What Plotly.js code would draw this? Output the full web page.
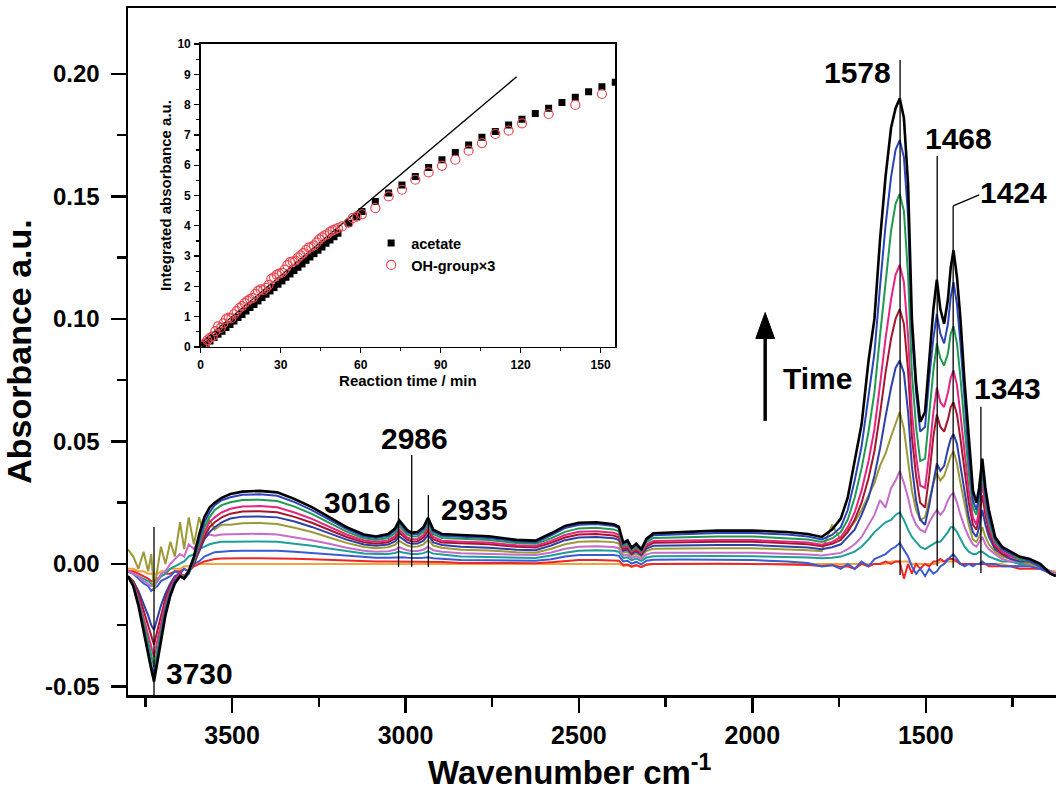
<!DOCTYPE html>
<html>
<head>
<meta charset="utf-8">
<script src="https://cdn.plot.ly/plotly-3.0.1.min.js"></script>
<style>html,body{margin:0;padding:0;background:#fff;}#chart{width:1056px;height:790px;}</style>
</head>
<body>
<div id="chart"></div>
<script>
// ---------------- Main spectra data (wavenumber grid, absorbance per time step) ----------------
const wavenumber = [
3800,3785,3770,3755,3742,3733,3725,3715,3705,3692,3678,3665,3650,3638,3625,3610,3595,3580,3565,3550,3530,3505,
3470,3420,3370,3320,3270,3220,3170,3120,3085,3050,3030,3018,3008,2995,2982,2965,2948,2935,2920,2895,
2840,2760,2680,2625,2580,2540,2500,2450,2400,2385,2372,2360,2348,2335,2320,2305,2285,2200,2100,2000,1900,1840,1800,1770,1745,
1725,1705,1685,1665,1648,1632,1616,1600,1587,1575,1563,1551,1540,1528,1516,1502,1490,1478,1468,1458,1447,1436,1428,1420,1410,1400,1388,1376,1364,1354,1346,1337,1328,1318,1300,1280,1255,1230,1200,1170,1140,1125];

const spec01 = [
-0.002,-0.002,-0.003,-0.003,-0.004,-0.004,-0.004,-0.004,-0.003,-0.003,-0.002,-0.002,-0.002,-0.001,-0.001,-0.001,0.000,0.000,0.000,0.000,0.000,0.000,
0.0001,0.0001,0.0001,0.0001,0.0000,0.0000,0.0000,0.0000,0.0000,0.0000,0.0000,0.0000,0.0000,0.0000,0.0000,0.0000,0.0000,0.0000,0.0000,0.0000,
0.0000,0.0000,0.0000,0.0000,0.0000,0.0001,0.0002,0.0002,0.0001,0.0000,-0.0008,-0.0006,-0.0012,-0.0007,-0.0012,-0.0003,0.0000,0.0000,0.0000,0.0000,0.0000,0.0000,-0.0002,0.0000,-0.0003,
0.000,0.000,0.000,0.000,0.000,0.000,0.000,0.001,0.001,0.001,0.001,0.001,0.000,0.000,0.000,0.000,0.000,0.000,0.000,0.001,0.001,0.001,0.001,0.001,0.001,0.000,0.000,0.000,0.000,0.000,0.000,0.000,0.000,0.000,0.000,0.000,-0.001,-0.001,-0.001,-0.002,-0.003,-0.003];

const spec02 = [
-0.003,-0.003,-0.004,-0.005,-0.006,-0.007,-0.007,-0.006,-0.005,-0.004,-0.004,-0.003,-0.003,-0.002,-0.003,-0.001,0.000,0.001,0.0015,0.002,0.0022,0.0023,
0.0023,0.0023,0.0023,0.0021,0.0019,0.0016,0.0013,0.0011,0.0010,0.0010,0.0010,0.0011,0.0010,0.0010,0.0009,0.0009,0.0009,0.0010,0.0009,0.0008,
0.0004,0.0004,0.0003,0.0003,0.0007,0.0013,0.0016,0.0016,0.0015,0.0013,-0.0004,-0.0002,-0.0011,-0.0005,-0.0013,-0.0002,0.0000,0.0001,0.0001,0.0000,-0.0002,-0.0004,-0.0008,-0.0004,-0.0012,
-0.001,-0.002,0.000,-0.001,0.000,0.000,0.001,0.000,0.001,0.001,-0.006,0.000,-0.004,0.000,-0.002,0.000,-0.001,0.001,0.001,0.002,0.001,0.002,0.002,0.002,0.001,0.000,0.000,0.000,0.000,0.000,0.000,0.000,0.000,-0.001,-0.001,-0.001,-0.001,-0.002,-0.002,-0.002,-0.003,-0.004];

const spec03 = [
-0.003,-0.004,-0.006,-0.008,-0.009,-0.011,-0.010,-0.009,-0.007,-0.006,-0.005,-0.003,-0.004,-0.002,-0.003,0.000,0.001,0.003,0.004,0.0048,0.005,0.0053,
0.0054,0.0055,0.0054,0.0050,0.0045,0.0039,0.0032,0.0027,0.0025,0.0025,0.0027,0.0029,0.0027,0.0025,0.0024,0.0024,0.0025,0.0027,0.0023,0.0021,
0.0016,0.0015,0.0013,0.0013,0.0019,0.0030,0.0036,0.0037,0.0036,0.0033,0.0010,0.0013,0.0001,0.0008,-0.0002,0.0013,0.0017,0.0018,0.0018,0.0016,0.0010,0.0004,-0.0010,-0.0005,-0.0020,
0.000,-0.002,0.001,-0.001,0.002,0.003,0.004,0.006,0.007,0.0085,0.006,0.003,-0.001,-0.004,-0.002,-0.005,-0.002,-0.004,-0.003,-0.001,0.000,0.002,0.003,0.004,0.002,0.000,-0.001,0.000,-0.001,0.000,0.000,0.001,0.000,0.000,0.000,-0.001,-0.001,-0.001,-0.001,-0.002,-0.004,-0.004];

const spec04 = [
-0.003,-0.004,-0.005,-0.006,-0.007,-0.008,-0.009,-0.007,-0.005,-0.004,-0.002,-0.001,0.000,0.001,0.003,0.004,0.006,0.007,0.008,0.0085,0.009,0.009,
0.0091,0.0092,0.0090,0.0083,0.0074,0.0063,0.0052,0.0043,0.0040,0.0041,0.0045,0.0051,0.0047,0.0043,0.0041,0.0041,0.0044,0.0051,0.0042,0.0038,
0.0030,0.0028,0.0025,0.0024,0.0034,0.0046,0.0054,0.0056,0.0054,0.0050,0.0024,0.0027,0.0015,0.0022,0.0012,0.0026,0.0031,0.0032,0.0032,0.0031,0.0029,0.0026,0.0023,0.0025,0.0030,
0.004,0.005,0.007,0.010,0.013,0.015,0.017,0.018,0.020,0.021,0.018,0.014,0.011,0.009,0.007,0.006,0.007,0.008,0.009,0.009,0.011,0.013,0.015,0.015,0.013,0.010,0.007,0.005,0.004,0.004,0.005,0.005,0.004,0.003,0.002,0.001,0.001,0.000,0.000,-0.001,-0.003,-0.004];

const spec05 = [
-0.003,-0.004,-0.005,-0.007,-0.008,-0.009,-0.009,-0.007,-0.004,-0.003,0.000,0.002,0.004,0.003,0.008,0.006,0.010,0.011,0.012,0.0115,0.012,0.0121,
0.0122,0.0123,0.0120,0.0110,0.0097,0.0082,0.0066,0.0054,0.0050,0.0052,0.0058,0.0068,0.0062,0.0056,0.0053,0.0053,0.0058,0.0070,0.0056,0.0050,
0.0044,0.0042,0.0037,0.0036,0.0047,0.0062,0.0070,0.0072,0.0069,0.0064,0.0034,0.0038,0.0024,0.0032,0.0021,0.0039,0.0046,0.0047,0.0046,0.0046,0.0042,0.0038,0.0034,0.0040,0.0045,
0.006,0.008,0.011,0.016,0.020,0.026,0.023,0.031,0.034,0.038,0.033,0.027,0.020,0.016,0.014,0.013,0.017,0.020,0.022,0.020,0.022,0.026,0.028,0.029,0.025,0.020,0.015,0.011,0.008,0.007,0.009,0.011,0.008,0.006,0.004,0.002,0.001,0.001,0.000,-0.001,-0.003,-0.004];

const spec06 = [
0.006,0.003,-0.002,0.005,-0.003,0.004,-0.011,-0.002,0.007,0.000,0.009,0.003,0.017,0.006,0.019,0.008,0.019,0.012,0.018,0.014,0.016,0.0160,
0.0166,0.0167,0.0163,0.0148,0.0130,0.0108,0.0086,0.0069,0.0064,0.0068,0.0078,0.0094,0.0085,0.0075,0.0070,0.0071,0.0080,0.0098,0.0075,0.0066,
0.0058,0.0055,0.0048,0.0046,0.0062,0.0080,0.0090,0.0093,0.0089,0.0083,0.0046,0.0050,0.0034,0.0043,0.0030,0.0053,0.0062,0.0064,0.0064,0.0064,0.0060,0.0056,0.0052,0.0160,0.0100,
0.014,0.017,0.022,0.028,0.033,0.040,0.045,0.052,0.057,0.062,0.055,0.042,0.030,0.022,0.018,0.019,0.026,0.033,0.037,0.034,0.036,0.041,0.044,0.046,0.041,0.033,0.024,0.016,0.010,0.009,0.011,0.015,0.011,0.008,0.005,0.003,0.002,0.001,0.000,-0.001,-0.004,-0.005];

const spec07 = [
-0.005,-0.007,-0.011,-0.016,-0.021,-0.025,-0.027,-0.022,-0.017,-0.012,-0.008,-0.005,-0.004,-0.005,-0.003,0.000,0.005,0.010,0.013,0.015,0.017,0.0185,
0.0193,0.0194,0.0190,0.0173,0.0151,0.0125,0.0099,0.0079,0.0074,0.0079,0.0092,0.0112,0.0101,0.0088,0.0082,0.0083,0.0095,0.0118,0.0088,0.0077,
0.0070,0.0066,0.0058,0.0056,0.0075,0.0097,0.0108,0.0110,0.0105,0.0098,0.0054,0.0059,0.0040,0.0051,0.0036,0.0063,0.0074,0.0076,0.0077,0.0077,0.0072,0.0067,0.0060,0.0068,0.0080,
0.011,0.014,0.020,0.027,0.036,0.047,0.060,0.072,0.080,0.083,0.078,0.062,0.040,0.026,0.018,0.016,0.024,0.034,0.041,0.038,0.040,0.047,0.051,0.053,0.049,0.040,0.029,0.019,0.013,0.011,0.015,0.022,0.016,0.011,0.006,0.004,0.002,0.001,0.001,-0.001,-0.004,-0.005];

const spec08 = [
-0.005,-0.007,-0.012,-0.019,-0.025,-0.030,-0.033,-0.027,-0.021,-0.014,-0.009,-0.006,-0.004,-0.005,-0.003,0.000,0.006,0.011,0.015,0.017,0.019,0.0205,
0.0214,0.0215,0.0211,0.0192,0.0168,0.0139,0.0110,0.0088,0.0082,0.0088,0.0104,0.0128,0.0115,0.0099,0.0092,0.0093,0.0108,0.0135,0.0100,0.0087,
0.0084,0.0080,0.0070,0.0067,0.0086,0.0108,0.0120,0.0122,0.0116,0.0109,0.0060,0.0066,0.0045,0.0057,0.0041,0.0072,0.0086,0.0089,0.0091,0.0091,0.0086,0.0080,0.0072,0.0082,0.0098,
0.013,0.018,0.025,0.035,0.046,0.061,0.078,0.092,0.100,0.104,0.098,0.079,0.052,0.036,0.025,0.023,0.036,0.052,0.061,0.056,0.054,0.059,0.064,0.066,0.061,0.051,0.037,0.025,0.016,0.014,0.019,0.028,0.020,0.013,0.007,0.004,0.003,0.002,0.001,-0.001,-0.004,-0.005];

const spec09 = [
-0.005,-0.008,-0.014,-0.022,-0.029,-0.034,-0.038,-0.031,-0.024,-0.016,-0.010,-0.006,-0.004,-0.005,-0.003,0.001,0.007,0.013,0.017,0.019,0.021,0.0225,
0.0234,0.0236,0.0231,0.0210,0.0184,0.0152,0.0120,0.0096,0.0090,0.0096,0.0114,0.0140,0.0126,0.0108,0.0101,0.0102,0.0118,0.0148,0.0110,0.0095,
0.0091,0.0087,0.0076,0.0073,0.0094,0.0118,0.0131,0.0133,0.0127,0.0119,0.0066,0.0073,0.0050,0.0063,0.0045,0.0079,0.0094,0.0097,0.0098,0.0098,0.0093,0.0087,0.0078,0.0090,0.0110,
0.015,0.021,0.030,0.042,0.055,0.073,0.092,0.108,0.118,0.122,0.115,0.093,0.062,0.044,0.032,0.031,0.045,0.062,0.072,0.066,0.064,0.070,0.076,0.079,0.073,0.061,0.045,0.030,0.019,0.016,0.022,0.033,0.023,0.015,0.008,0.005,0.003,0.002,0.001,-0.001,-0.004,-0.005];

const spec10 = [
-0.005,-0.008,-0.015,-0.024,-0.032,-0.038,-0.042,-0.035,-0.027,-0.018,-0.011,-0.007,-0.005,-0.005,-0.004,0.001,0.008,0.015,0.019,0.022,0.024,0.0252,
0.0261,0.0262,0.0257,0.0234,0.0204,0.0168,0.0132,0.0105,0.0098,0.0106,0.0126,0.0155,0.0139,0.0120,0.0112,0.0113,0.0131,0.0163,0.0122,0.0106,
0.0103,0.0098,0.0085,0.0082,0.0105,0.0131,0.0145,0.0148,0.0141,0.0133,0.0074,0.0082,0.0056,0.0070,0.0051,0.0089,0.0106,0.0110,0.0112,0.0112,0.0106,0.0100,0.0090,0.0104,0.0130,
0.018,0.027,0.039,0.054,0.070,0.093,0.116,0.136,0.147,0.151,0.144,0.118,0.078,0.056,0.042,0.043,0.061,0.079,0.090,0.084,0.081,0.086,0.094,0.097,0.090,0.076,0.056,0.037,0.023,0.020,0.026,0.037,0.026,0.017,0.009,0.006,0.004,0.002,0.001,-0.001,-0.004,-0.005];

const spec11 = [
-0.005,-0.009,-0.016,-0.027,-0.035,-0.041,-0.046,-0.038,-0.029,-0.019,-0.012,-0.007,-0.005,-0.006,-0.004,0.002,0.010,0.017,0.021,0.024,0.026,0.0272,
0.0282,0.0284,0.0278,0.0252,0.0220,0.0180,0.0142,0.0113,0.0106,0.0115,0.0137,0.0168,0.0150,0.0130,0.0121,0.0122,0.0142,0.0176,0.0132,0.0115,
0.0111,0.0106,0.0092,0.0089,0.0117,0.0146,0.0160,0.0163,0.0155,0.0146,0.0082,0.0090,0.0062,0.0077,0.0056,0.0097,0.0117,0.0122,0.0126,0.0126,0.0120,0.0112,0.0100,0.0118,0.0150,
0.022,0.034,0.048,0.068,0.086,0.113,0.138,0.158,0.169,0.173,0.166,0.142,0.095,0.070,0.054,0.056,0.076,0.092,0.102,0.094,0.090,0.098,0.109,0.115,0.106,0.090,0.066,0.044,0.026,0.022,0.028,0.040,0.028,0.019,0.010,0.006,0.004,0.003,0.001,-0.001,-0.004,-0.005];

const spec12 = [
-0.005,-0.009,-0.017,-0.028,-0.037,-0.043,-0.048,-0.040,-0.031,-0.021,-0.013,-0.008,-0.005,-0.006,-0.003,0.003,0.012,0.019,0.023,0.025,0.027,0.0285,
0.0295,0.0298,0.0292,0.0265,0.0232,0.0190,0.0150,0.0120,0.0112,0.0122,0.0145,0.0178,0.0160,0.0138,0.0128,0.0130,0.0150,0.0188,0.0140,0.0122,
0.0118,0.0113,0.0098,0.0095,0.0125,0.0155,0.0168,0.0170,0.0162,0.0152,0.0086,0.0096,0.0066,0.0082,0.0060,0.0103,0.0125,0.0130,0.0136,0.0136,0.0130,0.0122,0.0110,0.0140,0.0185,
0.027,0.042,0.057,0.083,0.100,0.132,0.158,0.178,0.186,0.190,0.182,0.155,0.100,0.074,0.058,0.062,0.085,0.104,0.116,0.104,0.098,0.108,0.121,0.128,0.117,0.100,0.074,0.050,0.030,0.025,0.031,0.043,0.031,0.022,0.011,0.007,0.005,0.003,0.002,0.000,-0.004,-0.005];

// peak labels
const peakLabels = ['3730','3016','2986','2935','1578','1468','1424','1343'];

// ---------------- Inset data ----------------
const acetateTime = [0.5,2,3.5,5,6.5,8,9.5,11,12.5,14,15.5,17,18.5,20,21.5,23,24.5,26,27.5,29,30.5,32,33.5,35,36.5,38,39.5,41,42.5,44,45.5,47,48.5,50,51.5,55.5,58.5,60.5,65.5,70.5,75.5,80.5,85.5,90.5,95.5,100.5,105.5,110.5,115.5,120.5,125.5,130.5,135.5,140.5,145.5,150.5,155.5];
const acetateAbs  = [0.05,0.10,0.20,0.31,0.42,0.52,0.64,0.74,0.86,0.97,1.07,1.19,1.30,1.40,1.52,1.63,1.74,1.85,1.96,2.07,2.18,2.30,2.41,2.52,2.63,2.74,2.86,2.97,3.08,3.19,3.30,3.42,3.53,3.64,3.75,4.08,4.30,4.47,4.80,5.08,5.35,5.63,5.92,6.18,6.42,6.67,6.92,7.11,7.33,7.52,7.71,7.88,8.07,8.24,8.42,8.59,8.74];
const ohTime = [0.5,1.5,2.5,3.5,4.5,5.5,6.5,7.5,8.5,9.5,10.5,11.5,12.5,13.5,14.5,15.5,16.5,17.5,18.5,19.5,20.5,21.5,22.5,23.5,24.5,25.5,26.5,27.5,28.5,29.5,30.5,31.5,32.5,33.5,34.5,35.5,36.5,37.5,38.5,39.5,40.5,41.5,42.5,43.5,44.5,45.5,46.5,47.5,48.5,49.5,50.5,51.5,53,55.5,57,58.5,60.5,65.5,70.5,75.5,80.5,85.5,90.5,95.5,100.5,105.5,110.5,115.5,120.5,130.5,140.5,150.5];
const ohAbsX3 = [0.05,0.12,0.22,0.30,0.35,0.52,0.68,0.63,0.78,0.92,0.97,0.95,1.08,1.18,1.28,1.35,1.45,1.52,1.58,1.62,1.75,1.85,1.90,1.88,1.95,2.05,2.25,2.30,2.38,2.42,2.45,2.55,2.70,2.80,2.82,2.85,2.95,3.02,3.10,3.20,3.28,3.30,3.35,3.45,3.55,3.62,3.68,3.72,3.80,3.85,3.88,3.92,3.98,4.10,4.25,4.30,4.38,4.58,4.97,5.19,5.52,5.76,5.98,6.18,6.48,6.73,7.03,7.14,7.38,7.69,7.99,8.35];
const fitTime = [0, 118.5];
const fitAbs  = [0.13, 8.92];

// ---------------- Styles ----------------
const specColors = ['#F4A13A','#EE2626','#3A5BD2','#1E9E98','#C66CCA','#9C9A36','#2E40A8','#A3172E','#E6237F','#1F9A50','#2A44B8','#000000'];
const specWidths = [2,2,2,2,2,2,2,2,2,2,2,2.6];
const specs = [spec01,spec02,spec03,spec04,spec05,spec06,spec07,spec08,spec09,spec10,spec11,spec12];

const traces = [];
let bad = [];
specs.forEach((s,i)=>{
  if (s.length !== wavenumber.length) bad.push('spec'+(i+1)+':'+s.length);
  traces.push({x: wavenumber, y: s, type:'scatter', mode:'lines', xaxis:'x', yaxis:'y',
    line:{color:specColors[i], width:specWidths[i]}, showlegend:false, hoverinfo:'skip', name:'t'+(i+1)});
});
traces.push({x: fitTime, y: fitAbs, type:'scatter', mode:'lines', xaxis:'x2', yaxis:'y2',
  line:{color:'#000', width:1.4}, showlegend:false, name:'fit'});
traces.push({x: acetateTime, y: acetateAbs, type:'scatter', mode:'markers', xaxis:'x2', yaxis:'y2',
  marker:{symbol:'square', size:7, color:'#000'}, name:'acetate'});
traces.push({x: ohTime, y: ohAbsX3, type:'scatter', mode:'markers', xaxis:'x2', yaxis:'y2',
  marker:{symbol:'circle-open', size:9, color:'#E8474F', line:{width:1.2, color:'#E8474F'}}, name:'OH-group×3'});

const FB = 'Liberation Sans, Arial, sans-serif';

const lineCol = '#000';
function vline(x, y0, y1){ return {type:'line', xref:'x', yref:'y', x0:x, x1:x, y0:y0, y1:y1, line:{color:lineCol, width:1.3}}; }

const shapes = [
  vline(3725, -0.0535, 0.0151),
  vline(3020, -0.0012, 0.0265),
  vline(2982, -0.0012, 0.0445),
  vline(2934, -0.0012, 0.0282),
  vline(1574, -0.0045, 0.2057),
  vline(1467, -0.0010, 0.1665),
  vline(1421, -0.0016, 0.1461),
  {type:'line', xref:'x', yref:'y', x0:1421, x1:1346, y0:0.1461, y1:0.1506, line:{color:lineCol, width:1.3}},
  vline(1341, -0.0037, 0.0642),
  // Time arrow
  {type:'line', xref:'x', yref:'y', x0:1963, x1:1963, y0:0.0584, y1:0.0930, line:{color:'#000', width:3.5}},
  {type:'path', xref:'x', yref:'y', path:'M 1990 0.0920 L 1936 0.0920 L 1963 0.1026 Z', fillcolor:'#000', line:{color:'#000', width:1}}
];

function lab(text, x, y){ return {text:text, x:x, y:y, xref:'x', yref:'y', showarrow:false, xanchor:'center', yanchor:'middle',
  font:{family:FB, size:30, weight:'bold', color:'#000'}}; }
const annotations = [
  lab(peakLabels[0], 3595, -0.0449),
  lab(peakLabels[1], 3139, 0.0249),
  lab(peakLabels[2], 2975, 0.0510),
  lab(peakLabels[3], 2802, 0.0224),
  lab(peakLabels[4], 1698, 0.2004),
  lab(peakLabels[5], 1407, 0.1735),
  lab(peakLabels[6], 1248, 0.1514),
  lab(peakLabels[7], 1263, 0.0718),
  lab('Time', 1811, 0.0755),
  // x-axis title (placed slightly left of plot centre, as in the original)
  {text:'Wavenumber cm<sup>-1</sup>', xref:'paper', yref:'paper', x:0.476, y:-0.109, xanchor:'center', yanchor:'middle', showarrow:false,
   font:{family:FB, size:33, weight:'bold', color:'#000'}}
];
if (bad.length) annotations.push({text:'LEN ERR '+bad.join(' '), xref:'paper', yref:'paper', x:0.5, y:0.5, showarrow:false, font:{size:20,color:'red'}});

const layout = {
  width:1056, height:790,
  margin:{l:128, r:0, t:8, b:95, pad:0},
  paper_bgcolor:'#fff', plot_bgcolor:'#fff',
  font:{family:FB, color:'#000'},
  showlegend:true,
  legend:{x:0.262, y:0.681, xanchor:'left', yanchor:'top', bgcolor:'rgba(0,0,0,0)', borderwidth:0,
    font:{family:FB, size:14.5, weight:'bold', color:'#000'}, itemwidth:30, tracegroupgap:0},
  xaxis:{domain:[0,1], range:[3800,1124.5], autorange:false, showline:true, linewidth:2.5, linecolor:'#000', mirror:true,
    ticks:'outside', ticklen:15, tickwidth:2.5, tickcolor:'#000',
    tickvals:[3500,3000,2500,2000,1500], ticktext:['3500','3000','2500','2000','1500'],
    minor:{tickvals:[3750,3250,2750,2250,1750,1250], ticks:'outside', ticklen:9, tickwidth:2.5, tickcolor:'#000'},
    showgrid:false, zeroline:false, ticklabelstandoff:1,
    tickfont:{family:FB, size:25, weight:'bold', color:'#000'}},
  yaxis:{domain:[0,1], range:[-0.0535,0.2269], autorange:false, showline:true, linewidth:2.5, linecolor:'#000', mirror:false,
    ticks:'outside', ticklen:15, tickwidth:2.5, tickcolor:'#000',
    tickvals:[-0.05,0,0.05,0.1,0.15,0.2], ticktext:['-0.05','0.00','0.05','0.10','0.15','0.20'],
    minor:{tickvals:[-0.025,0.025,0.075,0.125,0.175], ticks:'outside', ticklen:9, tickwidth:2.5, tickcolor:'#000'},
    showgrid:false, zeroline:false, ticklabelstandoff:6,
    tickfont:{family:FB, size:24, weight:'bold', color:'#000'},
    title:{text:'Absorbance a.u.', font:{family:FB, size:34, weight:'bold', color:'#000'}, standoff:8}},
  xaxis2:{domain:[0.0783,0.5248], anchor:'y2', range:[0,155.4], autorange:false, showline:true, mirror:true, linewidth:1.5, linecolor:'#000',
    ticks:'outside', ticklen:5, tickwidth:1.3, tickcolor:'#000', tick0:0, dtick:30,
    minor:{dtick:15, tick0:0, ticks:'outside', ticklen:3, tickwidth:1.2, tickcolor:'#000'},
    showgrid:false, zeroline:false, ticklabelstandoff:1,
    tickfont:{family:FB, size:12, weight:'bold', color:'#000'},
    title:{text:'Reaction time / min', font:{family:FB, size:15, weight:'bold', color:'#000'}, standoff:2}},
  yaxis2:{domain:[0.5066,0.9476], anchor:'x2', range:[0,10], autorange:false, showline:true, mirror:true, linewidth:1.5, linecolor:'#000',
    ticks:'outside', ticklen:5, tickwidth:1.3, tickcolor:'#000', tick0:0, dtick:1,
    minor:{dtick:0.5, tick0:0, ticks:'outside', ticklen:3, tickwidth:1.2, tickcolor:'#000'},
    showgrid:false, zeroline:false, ticklabelstandoff:1,
    tickfont:{family:FB, size:12, weight:'bold', color:'#000'},
    title:{text:'Integrated absorbance a.u.', font:{family:FB, size:15, weight:'bold', color:'#000'}, standoff:2}},
  shapes:shapes,
  annotations:annotations
};

Plotly.newPlot('chart', traces, layout, {staticPlot:true, displayModeBar:false});
</script>
</body>
</html>
